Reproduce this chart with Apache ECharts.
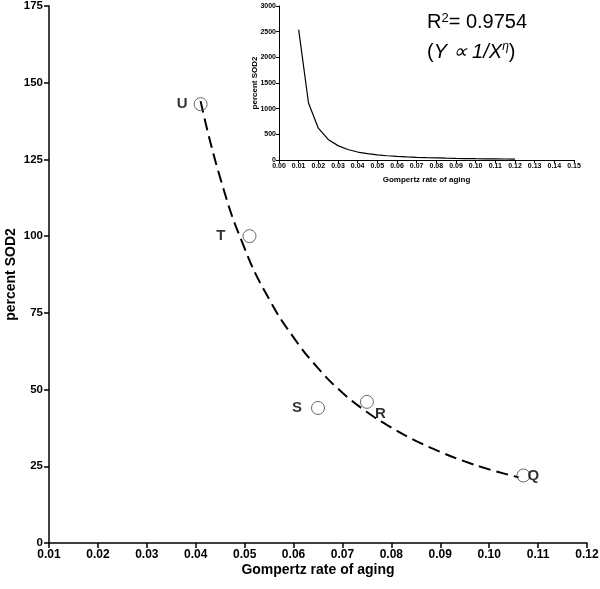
<!DOCTYPE html>
<html>
<head>
<meta charset="utf-8">
<script src="https://cdn.jsdelivr.net/npm/echarts@6/dist/echarts.min.js"></script>
<style>
html,body{margin:0;padding:0;background:#fff;}
#chart{width:600px;height:589px;}
</style>
</head>
<body>
<div id="chart"></div>
<script>
// ---- Main panel data ----
var pointNames = ['U', 'T', 'S', 'R', 'Q'];
var pointX = [0.041, 0.051, 0.065, 0.075, 0.107];
var pointY = [143, 100, 44, 46, 22];

// dashed fit curve
var fitX = [0.041, 0.045, 0.050, 0.055, 0.060, 0.065, 0.070, 0.075, 0.080, 0.085, 0.090, 0.095, 0.100, 0.106];
var fitY = [144, 119, 96, 79.5, 67, 57, 49, 42.7, 37.6, 33.3, 29.7, 26.6, 24, 21.4];

// ---- Inset data ----
var insetX = [0.010, 0.015, 0.020, 0.025, 0.030, 0.035, 0.040, 0.045, 0.050, 0.055, 0.060, 0.065, 0.070, 0.075, 0.080, 0.085, 0.090, 0.095, 0.100, 0.105, 0.110, 0.115, 0.120];
var insetY = [2540, 1110, 620, 400, 280, 205, 155, 125, 100, 83, 70, 60, 52, 45, 40, 35, 31, 28, 25, 23, 21, 19, 18];

var mainXTicks = {min: 0.01, max: 0.12, interval: 0.01};
var mainYTicks = {min: 0, max: 175, interval: 25};
var insetXTicks = {min: 0, max: 0.15, interval: 0.01};
var insetYTicks = {min: 0, max: 3000, interval: 500};

// label placement per point (style only)
var labelStyle = {
  U: {position: 'left', distance: 6},
  T: {position: 'left', distance: 17},
  S: {position: 'left', distance: 9},
  R: {position: 'right', distance: 2, offset: [-1, 12]},
  Q: {position: 'right', distance: -3}
};

var FONT = '"Liberation Sans", Arial, sans-serif';

var scatterData = pointNames.map(function (n, i) {
  var ls = labelStyle[n];
  return {
    value: [pointX[i], pointY[i]],
    name: n,
    label: {
      show: true,
      formatter: n,
      position: ls.position,
      distance: ls.distance,
      offset: ls.offset || [0, 0]
    }
  };
});

var chart = echarts.init(document.getElementById('chart'), null, {renderer: 'canvas'});

var axisLine = {show: true, lineStyle: {color: '#000', width: 1.5}};

var option = {
  backgroundColor: '#fff',
  animation: false,
  grid: [
    {left: 49, top: 6, width: 538, height: 537, containLabel: false, outerBoundsMode: 'none'},
    {left: 279, top: 6, width: 295, height: 154, containLabel: false, outerBoundsMode: 'none', show: true, backgroundColor: '#fff', borderWidth: 0}
  ],
  xAxis: [
    {
      gridIndex: 0, type: 'value', min: mainXTicks.min, max: mainXTicks.max, interval: mainXTicks.interval,
      axisLine: axisLine,
      axisTick: {show: true, length: 5, lineStyle: {color: '#000', width: 1.5}},
      splitLine: {show: false},
      axisLabel: {color: '#000', fontFamily: FONT, fontWeight: 'bold', fontSize: 12, margin: 6,
        formatter: function (v) { return v.toFixed(2); }},
      name: 'Gompertz rate of aging', nameLocation: 'middle', nameGap: 20, nameMoveOverlap: false,
      nameTextStyle: {color: '#000', fontFamily: FONT, fontWeight: 'bold', fontSize: 14}
    },
    {
      gridIndex: 1, type: 'value', min: insetXTicks.min, max: insetXTicks.max, interval: insetXTicks.interval,
      axisLine: {show: true, lineStyle: {color: '#000', width: 1}},
      axisTick: {show: true, length: 3, lineStyle: {color: '#000', width: 1}},
      splitLine: {show: false},
      axisLabel: {color: '#000', fontFamily: FONT, fontWeight: 'bold', fontSize: 7, margin: 3,
        formatter: function (v) { return v.toFixed(2); }},
      name: 'Gompertz rate of aging', nameLocation: 'middle', nameGap: 16, nameMoveOverlap: false,
      nameTextStyle: {color: '#000', fontFamily: FONT, fontWeight: 'bold', fontSize: 8}
    }
  ],
  yAxis: [
    {
      gridIndex: 0, type: 'value', min: mainYTicks.min, max: mainYTicks.max, interval: mainYTicks.interval,
      axisLine: axisLine,
      axisTick: {show: true, length: 5, lineStyle: {color: '#000', width: 1.5}},
      splitLine: {show: false},
      axisLabel: {color: '#000', fontFamily: FONT, fontWeight: 'bold', fontSize: 11.5, margin: 6},
      name: 'percent SOD2', nameLocation: 'middle', nameGap: 31, nameMoveOverlap: false,
      nameTextStyle: {color: '#000', fontFamily: FONT, fontWeight: 'bold', fontSize: 14}
    },
    {
      gridIndex: 1, type: 'value', min: insetYTicks.min, max: insetYTicks.max, interval: insetYTicks.interval,
      axisLine: {show: true, lineStyle: {color: '#000', width: 1}},
      axisTick: {show: true, length: 3, lineStyle: {color: '#000', width: 1}},
      splitLine: {show: false},
      axisLabel: {color: '#000', fontFamily: FONT, fontWeight: 'bold', fontSize: 7, margin: 3,
        formatter: function (v) { return String(v); }},
      name: 'percent SOD2', nameLocation: 'middle', nameGap: 20, nameMoveOverlap: false,
      nameTextStyle: {color: '#000', fontFamily: FONT, fontWeight: 'bold', fontSize: 8}
    }
  ],
  series: [
    {
      type: 'line', xAxisIndex: 0, yAxisIndex: 0, smooth: true, symbol: 'none',
      data: fitX.map(function (x, i) { return [x, fitY[i]]; }),
      lineStyle: {color: '#000', width: 2, type: [12, 6]},
      z: 2
    },
    {
      type: 'scatter', xAxisIndex: 0, yAxisIndex: 0, symbol: 'circle', symbolSize: 13,
      data: scatterData,
      itemStyle: {color: 'rgba(255,255,255,0)', borderColor: '#444', borderWidth: 1},
      label: {color: '#000', fontFamily: FONT, fontWeight: 'bold', fontSize: 15},
      z: 3
    },
    {
      type: 'line', xAxisIndex: 1, yAxisIndex: 1, smooth: false, symbol: 'none',
      data: insetX.map(function (x, i) { return [x, insetY[i]]; }),
      lineStyle: {color: '#000', width: 1.2},
      z: 3
    }
  ],
  graphic: [
    {
      type: 'text', left: 427, top: 12,
      style: {
        text: '{a|R}{s|2}{a|= 0.9754}',
        rich: {
          a: {fontFamily: FONT, fontSize: 20, fill: '#000'},
          s: {fontFamily: FONT, fontSize: 13, fill: '#000', verticalAlign: 'top', padding: [0, 0, 8, 0]}
        }
      }
    },
    {
      type: 'text', left: 427, top: 41,
      style: {
        text: '{a|(}{i|Y ∝ 1/X}{s|η}{a|)}',
        rich: {
          a: {fontFamily: FONT, fontSize: 20, fill: '#000'},
          i: {fontFamily: FONT, fontSize: 20, fontStyle: 'italic', fill: '#000'},
          s: {fontFamily: FONT, fontSize: 12, fontStyle: 'italic', fill: '#000', padding: [0, 0, 10, 0]}
        }
      }
    }
  ]
};

chart.setOption(option);
</script>
</body>
</html>
